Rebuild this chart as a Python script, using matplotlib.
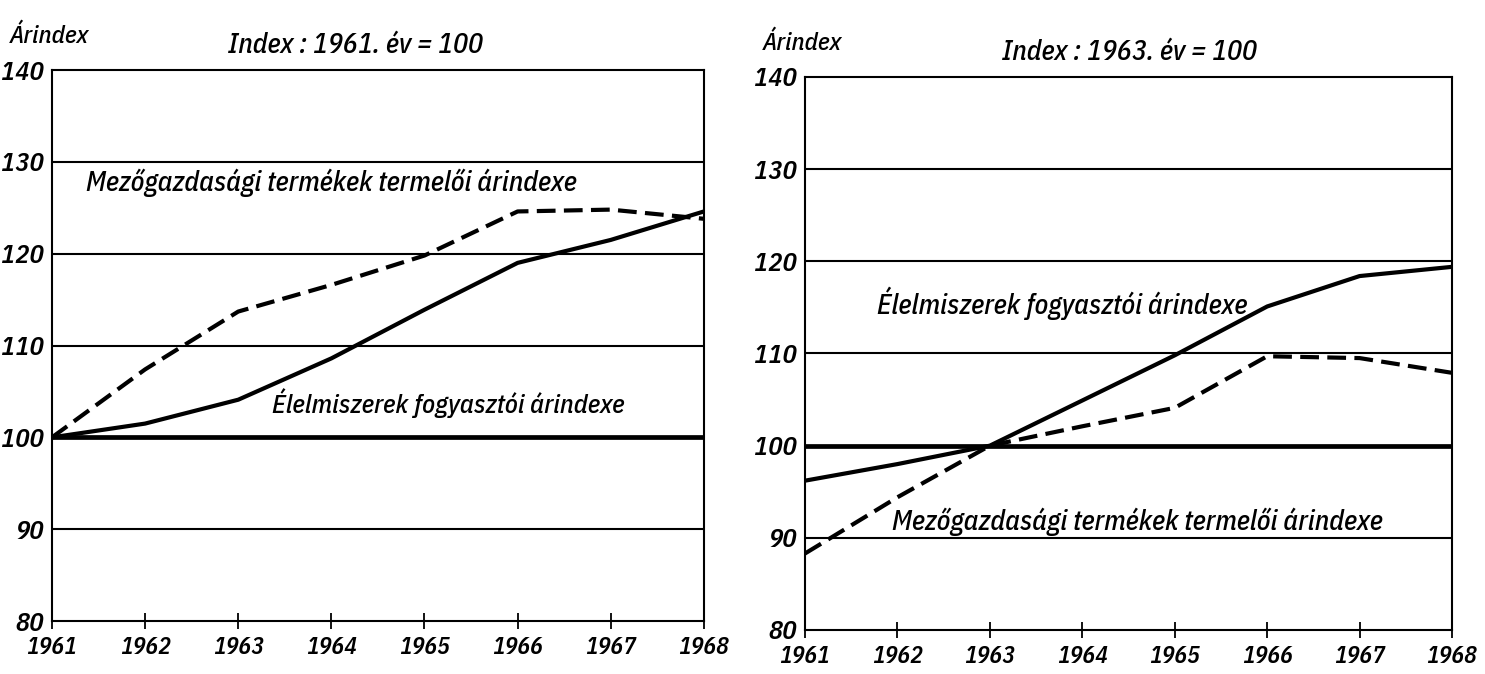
import matplotlib.pyplot as plt

# Data
years = [1961, 1962, 1963, 1964, 1965, 1966, 1967, 1968]

# Left panel: 1961 = 100
mezo_1961 = [100, 107.4, 113.7, 116.6, 119.8, 124.6, 124.8, 123.8]
elel_1961 = [100, 101.5, 104.1, 108.6, 113.9, 119.0, 121.5, 124.6]

# Right panel: 1963 = 100
mezo_1963 = [88.3, 94.4, 100, 102.1, 104.1, 109.7, 109.5, 107.9]
elel_1963 = [96.2, 98.0, 100, 104.9, 109.8, 115.1, 118.4, 119.4]

yticks = [80, 90, 100, 110, 120, 130, 140]

label_mezo = "Mezőgazdasági termékek termelői árindexe"
label_elel = "Élelmiszerek fogyasztói árindexe"

font = {"family": ["IBM Plex Sans Condensed", "DejaVu Sans"], "style": "italic",
        "weight": "medium"}
tick_font = dict(font, weight="semibold")

fig = plt.figure(figsize=(14.85, 6.74), dpi=100)
ax1 = fig.add_axes([0.035, 0.0786, 0.439, 0.8175])
ax2 = fig.add_axes([0.5421, 0.0653, 0.4357, 0.8205])


def setup(ax, title, title_x):
    ax.set_xlim(years[0], years[-1])
    ax.set_ylim(80, 140)
    for v in yticks[1:-1]:
        ax.axhline(v, color="black", lw=3.4 if v == 100 else 1.5, zorder=1)
    for s in ax.spines.values():
        s.set_linewidth(1.5)
    ax.set_xticks(years)
    ax.set_yticks(yticks)
    ax.set_xticklabels([str(y) for y in years], fontdict=tick_font, fontsize=17)
    ax.set_yticklabels([str(v) for v in yticks], fontdict=tick_font, fontsize=19)
    ax.tick_params(axis="x", direction="inout", length=12, width=1.3, pad=5)
    ax.tick_params(axis="y", length=0, pad=6)
    ax.text(-0.065, 1.04, "Árindex", transform=ax.transAxes, fontdict=font,
            fontsize=18, ha="left", va="bottom")
    ax.text(title_x, 1.02, title, transform=ax.transAxes,
            fontdict=font, fontsize=20, ha="left", va="bottom")


setup(ax1, "Index : 1961. év = 100", 0.27)
setup(ax2, "Index : 1963. év = 100", 0.305)

ax1.plot(years, mezo_1961, color="black", lw=3.0, ls=(0, (4.5, 2)), zorder=3)
ax1.plot(years, elel_1961, color="black", lw=3.0, zorder=3)
ax1.text(1961.37, 126.8, label_mezo, fontdict=font, fontsize=20, va="baseline")
ax1.text(1963.36, 102.7, label_elel, fontdict=font, fontsize=19, va="baseline")

ax2.plot(years, mezo_1963, color="black", lw=3.0, ls=(0, (4.5, 2)), zorder=3)
ax2.plot(years, elel_1963, color="black", lw=3.0, zorder=3)
ax2.text(1961.78, 114.3, label_elel, fontdict=font, fontsize=20, va="baseline")
ax2.text(1961.94, 90.9, label_mezo, fontdict=font, fontsize=20, va="baseline")

fig.savefig("out.png", dpi=100, facecolor="white")
